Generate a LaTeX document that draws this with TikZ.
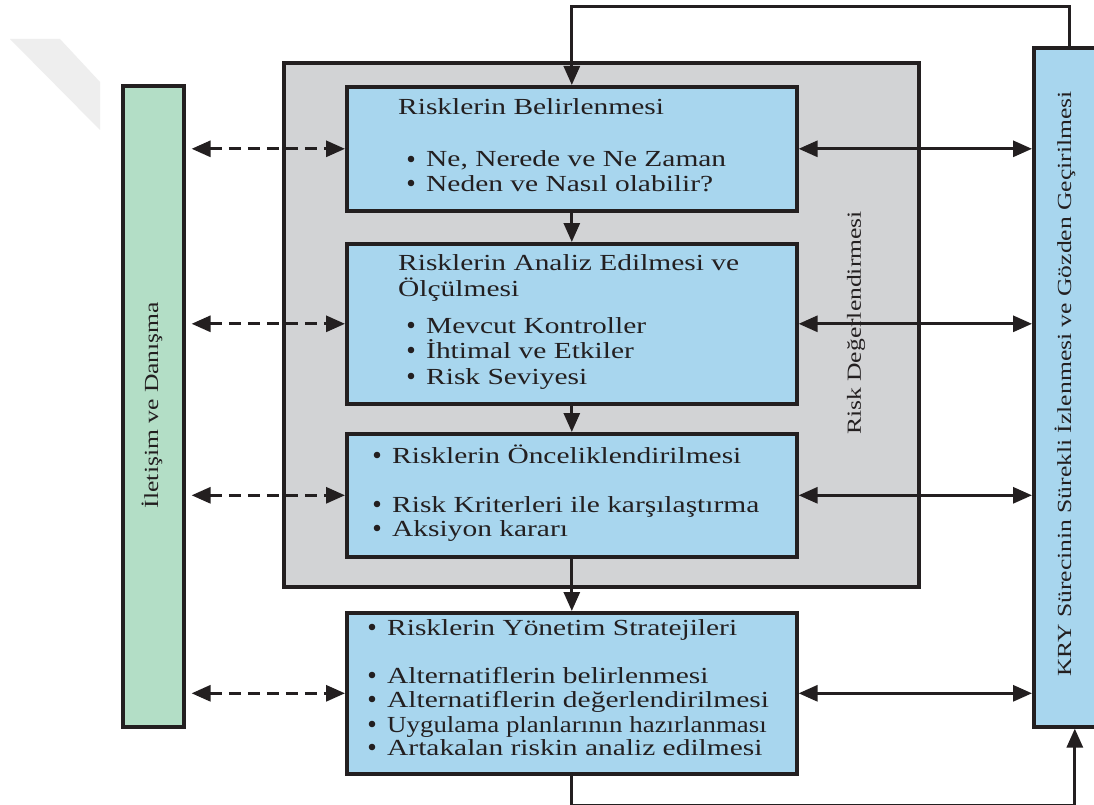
\documentclass[tikz,border=0pt]{standalone}
\usepackage{fontspec}
\setmainfont[FakeStretch=1.28]{Liberation Serif}
\usetikzlibrary{arrows.meta}
\definecolor{boxblue}{RGB}{168,214,238}
\definecolor{sidegreen}{RGB}{179,222,198}
\definecolor{assessgray}{RGB}{210,211,213}
\definecolor{ink}{RGB}{35,31,32}
\definecolor{markgray}{RGB}{238,238,238}

\begin{document}
\begin{tikzpicture}[x=1pt,y=-1pt,
  frame/.style={draw=ink, line width=3.6pt, rectangle, inner sep=0pt, anchor=north west},
  bluebox/.style={frame, fill=boxblue},
  conn/.style={draw=ink, line width=3pt},
  tip/.style={-{Triangle[length=19pt,width=16pt]}},
  twotips/.style={{Triangle[length=19pt,width=16pt]}-{Triangle[length=19pt,width=16pt]}},
  dashline/.style={dash pattern=on 12pt off 7pt},
  txt/.style={anchor=base west, inner sep=0pt, text=ink, text height=15pt, text depth=4pt,
              font=\fontsize{23}{25}\selectfont},
  vtxt/.style={rotate=90, inner sep=0pt, text=ink, font=\fontsize{20}{22}\selectfont},
]
\clip (0,0) rectangle (1094,805);
\fill[white] (0,0) rectangle (1094,805);
\fill[markgray] (10,39) -- (60,39) -- (100,82) -- (100,130) -- cycle;

% outer frame of the assessment stage
\node[frame, fill=assessgray, minimum width=635pt, minimum height=524pt] (assess) at (282,61) {};
\node[vtxt] (assesslbl) at (856,323) {Risk Değerlendirmesi};

% side bars
\node[frame, fill=sidegreen, minimum width=61pt, minimum height=641pt] (comm) at (121,84) {};
\node[vtxt] (commlbl) at (152,405) {İletişim ve Danışma};
\node[frame, fill=boxblue, minimum width=72pt, minimum height=679pt] (kry) at (1032,46) {};
\node[vtxt] (krylbl) at (1065,384) {KRY Sürecinin Sürekli İzlenmesi ve Gözden Geçirilmesi};

% process steps
\node[bluebox, minimum width=450pt, minimum height=124pt] (b1) at (345,85) {};
\node[bluebox, minimum width=450pt, minimum height=160pt] (b2) at (345,242) {};
\node[bluebox, minimum width=450pt, minimum height=123pt] (b3) at (345,432) {};
\node[bluebox, minimum width=450pt, minimum height=161pt] (b4) at (345,611) {};

% step 1
\node[txt] (t1a) at (398,115) {Risklerin Belirlenmesi};
\node[txt] (t1b) at (426,167) {Ne, Nerede ve Ne Zaman};
\node[txt] (t1c) at (426,191) {Neden ve Nasıl olabilir?};
% step 2
\node[txt] (t2a) at (398,270) {Risklerin Analiz Edilmesi ve};
\node[txt] (t2b) at (398,296) {Ölçülmesi};
\node[txt] (t2c) at (426,333) {Mevcut Kontroller};
\node[txt] (t2d) at (426,358) {İhtimal ve Etkiler};
\node[txt] (t2e) at (426,384) {Risk Seviyesi};
% step 3
\node[txt] (t3a) at (392,463) {Risklerin Önceliklendirilmesi};
\node[txt] (t3b) at (392,512) {Risk Kriterleri ile karşılaştırma};
\node[txt] (t3c) at (392,536) {Aksiyon kararı};
% step 4
\node[txt] (t4a) at (387,635) {Risklerin Yönetim Stratejileri};
\node[txt] (t4b) at (387,683) {Alternatiflerin belirlenmesi};
\node[txt] (t4c) at (387,707) {Alternatiflerin değerlendirilmesi};
\node[txt] (t4d) at (387,732) {\addfontfeature{FakeStretch=1.17}Uygulama planlarının hazırlanması};
\node[txt] (t4e) at (387,755) {Artakalan riskin analiz edilmesi};

% list bullets
\foreach \t in {t1b,t1c,t2c,t2d,t2e,t3a,t3b,t3c,t4a,t4b,t4c,t4d,t4e}
  \fill[ink] ([xshift=-15pt,yshift=8pt]\t.base west) circle (3.3pt);

% flow between steps
\draw[conn, tip] (b1.south) -- (b2.north);
\draw[conn, tip] (b2.south) -- (b3.north);
\draw[conn, tip] (b3.south) -- (b4.north);

% communication links (dashed, both ways)
\foreach \b in {b1,b2,b3,b4}
  \draw[conn, twotips, dashline, shorten <=6pt] (comm.east |- \b.west) -- (\b.west);

% monitoring links (solid, both ways)
\foreach \b in {b1,b2,b3,b4}
  \draw[conn, twotips] (\b.east) -- (kry.west |- \b.east);

% feedback loops
\draw[conn, tip] (kry.north) -- ++(0,-39) -| (b1.north);
\draw[conn, tip] (b4.south) -- ++(0,30) -| ([xshift=5pt]kry.south);
\end{tikzpicture}
\end{document}
